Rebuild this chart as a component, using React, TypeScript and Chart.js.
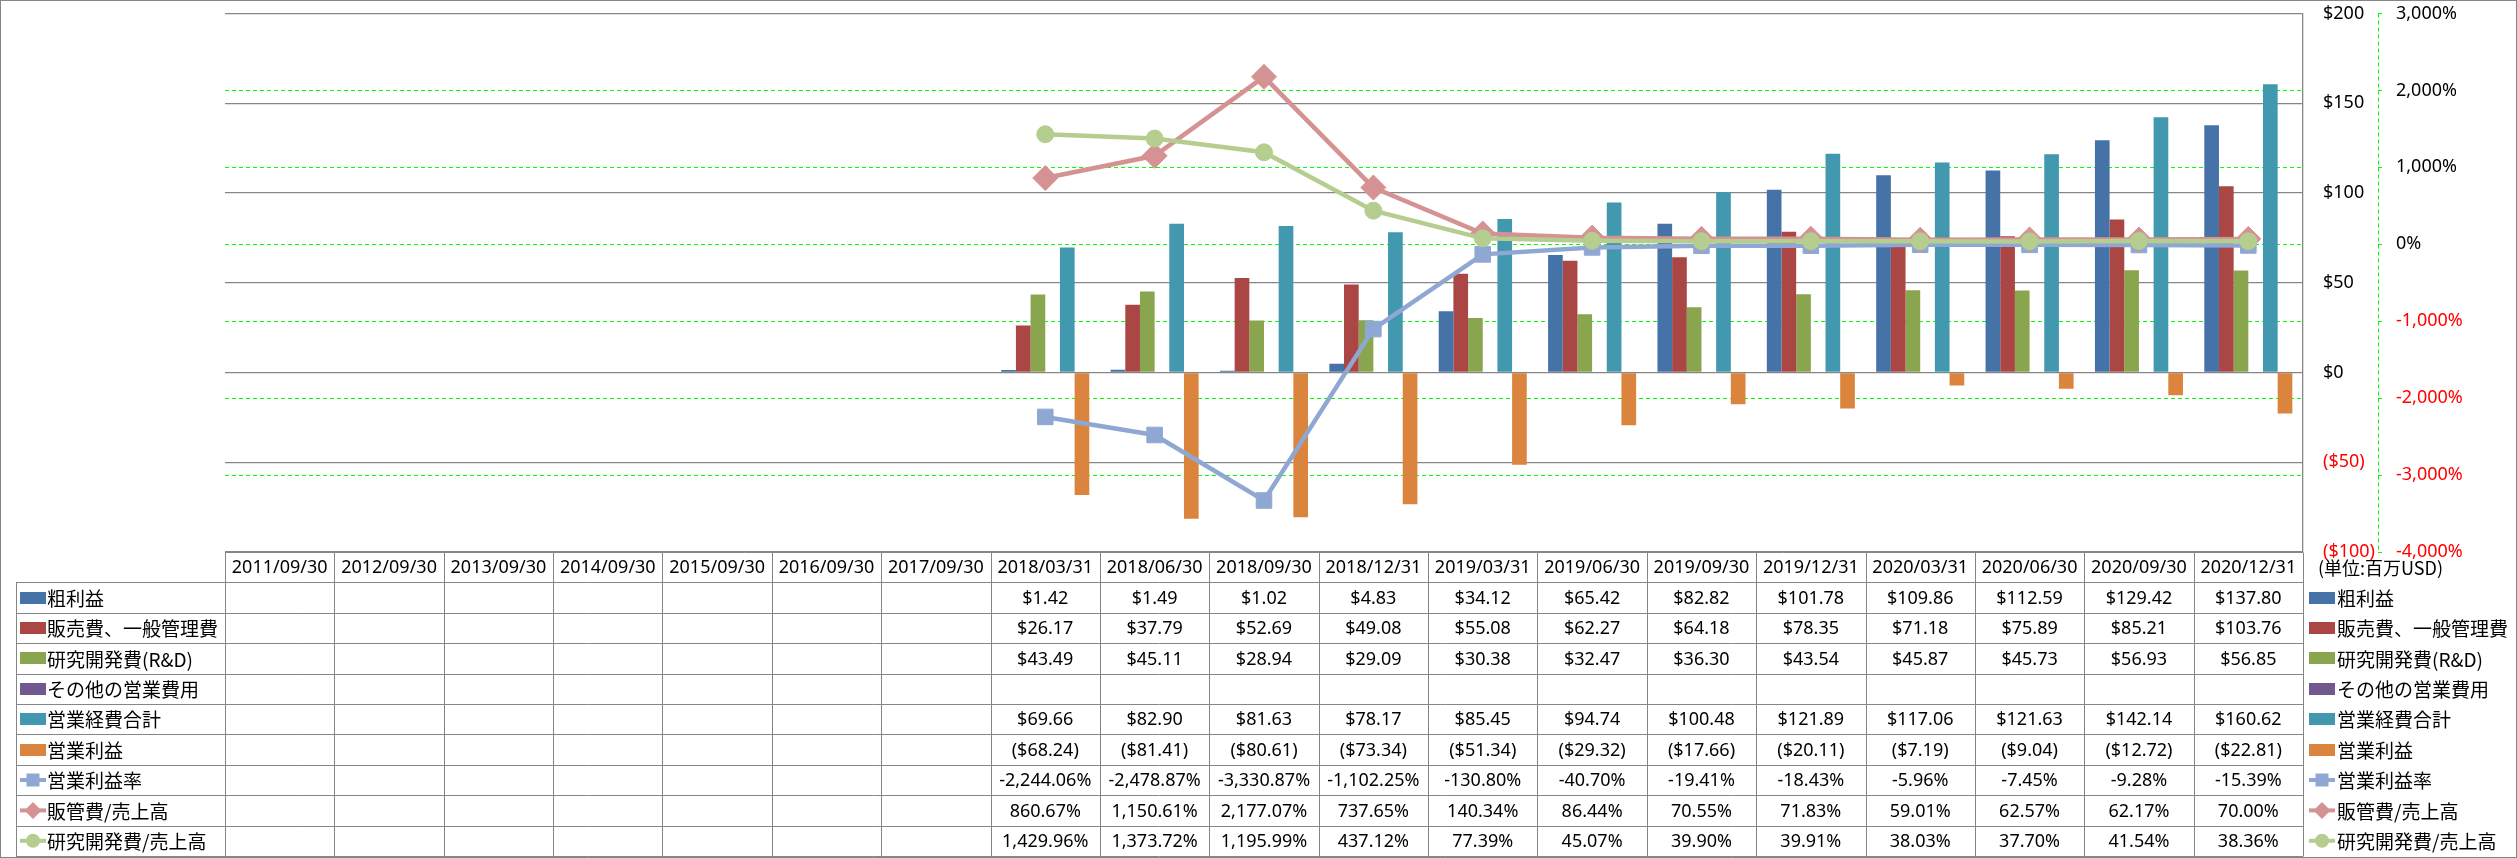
import React, { useEffect, useRef } from 'react';
import { Chart, registerables } from 'chart.js';

Chart.register(...registerables);

const categories = [
  '2011/09/30', '2012/09/30', '2013/09/30', '2014/09/30', '2015/09/30', '2016/09/30', '2017/09/30',
  '2018/03/31', '2018/06/30', '2018/09/30', '2018/12/31', '2019/03/31', '2019/06/30',
  '2019/09/30', '2019/12/31', '2020/03/31', '2020/06/30', '2020/09/30', '2020/12/31',
];

const grossProfit = [null, null, null, null, null, null, null, 1.42, 1.49, 1.02, 4.83, 34.12, 65.42, 82.82, 101.78, 109.86, 112.59, 129.42, 137.8];
const sgaExpense = [null, null, null, null, null, null, null, 26.17, 37.79, 52.69, 49.08, 55.08, 62.27, 64.18, 78.35, 71.18, 75.89, 85.21, 103.76];
const rdExpense = [null, null, null, null, null, null, null, 43.49, 45.11, 28.94, 29.09, 30.38, 32.47, 36.3, 43.54, 45.87, 45.73, 56.93, 56.85];
const otherExpense = [null, null, null, null, null, null, null, null, null, null, null, null, null, null, null, null, null, null, null];
const totalOpex = [null, null, null, null, null, null, null, 69.66, 82.9, 81.63, 78.17, 85.45, 94.74, 100.48, 121.89, 117.06, 121.63, 142.14, 160.62];
const operatingIncome = [null, null, null, null, null, null, null, -68.24, -81.41, -80.61, -73.34, -51.34, -29.32, -17.66, -20.11, -7.19, -9.04, -12.72, -22.81];
const operatingMargin = [null, null, null, null, null, null, null, -2244.06, -2478.87, -3330.87, -1102.25, -130.8, -40.7, -19.41, -18.43, -5.96, -7.45, -9.28, -15.39];
const sgaRatio = [null, null, null, null, null, null, null, 860.67, 1150.61, 2177.07, 737.65, 140.34, 86.44, 70.55, 71.83, 59.01, 62.57, 62.17, 70.0];
const rdRatio = [null, null, null, null, null, null, null, 1429.96, 1373.72, 1195.99, 437.12, 77.39, 45.07, 39.9, 39.91, 38.03, 37.7, 41.54, 38.36];

const moneyTicks = { min: -100, max: 200, step: 50 };
const pctTicks = { min: -4000, max: 3000, step: 1000 };
const unitLabel = '(単位:百万USD)';

const fmtMoney = (v: number | null) =>
  v == null ? '' : v < 0 ? `($${Math.abs(v).toFixed(2)})` : `$${v.toFixed(2)}`;
const fmtPct = (v: number | null) =>
  v == null ? '' : `${v.toLocaleString('en-US', { minimumFractionDigits: 2, maximumFractionDigits: 2 })}%`;

type Row = {
  label: string;
  data: (number | null)[];
  color: string;
  kind: 'bar' | 'line';
  marker?: 'rect' | 'rectRot' | 'circle';
  fmt: (v: number | null) => string;
};

const rows: Row[] = [
  { label: '粗利益', data: grossProfit, color: '#4572A7', kind: 'bar', fmt: fmtMoney },
  { label: '販売費、一般管理費', data: sgaExpense, color: '#AA4643', kind: 'bar', fmt: fmtMoney },
  { label: '研究開発費(R&D)', data: rdExpense, color: '#89A54E', kind: 'bar', fmt: fmtMoney },
  { label: 'その他の営業費用', data: otherExpense, color: '#71588F', kind: 'bar', fmt: fmtMoney },
  { label: '営業経費合計', data: totalOpex, color: '#4198AF', kind: 'bar', fmt: fmtMoney },
  { label: '営業利益', data: operatingIncome, color: '#DB843D', kind: 'bar', fmt: fmtMoney },
  { label: '営業利益率', data: operatingMargin, color: '#8FA8D3', kind: 'line', marker: 'rect', fmt: fmtPct },
  { label: '販管費/売上高', data: sgaRatio, color: '#D49392', kind: 'line', marker: 'rectRot', fmt: fmtPct },
  { label: '研究開発費/売上高', data: rdRatio, color: '#B5CD8F', kind: 'line', marker: 'circle', fmt: fmtPct },
];

const NUM_FONT = "18px 'Noto Sans'";
const JP_FONT = "19px 'Noto Sans CJK JP'";
const GRID_GRAY = '#868686';
const GREEN = '#00FF00';

function drawKey(ctx: CanvasRenderingContext2D, row: Row, x: number, y: number) {
  ctx.save();
  if (row.kind === 'bar') {
    ctx.fillStyle = row.color;
    ctx.fillRect(x, Math.round(y) - 6, 26, 12);
  } else {
    ctx.strokeStyle = row.color;
    ctx.fillStyle = row.color;
    ctx.lineWidth = 4;
    ctx.beginPath();
    ctx.moveTo(x, y);
    ctx.lineTo(x + 26, y);
    ctx.stroke();
    const cx = x + 13;
    ctx.beginPath();
    if (row.marker === 'rect') {
      ctx.rect(cx - 6.5, y - 6.5, 13, 13);
    } else if (row.marker === 'rectRot') {
      ctx.moveTo(cx, y - 8.5);
      ctx.lineTo(cx + 8.5, y);
      ctx.lineTo(cx, y + 8.5);
      ctx.lineTo(cx - 8.5, y);
      ctx.closePath();
    } else {
      ctx.arc(cx, y, 7, 0, Math.PI * 2);
    }
    ctx.fill();
  }
  ctx.restore();
}

const tablePlugin = {
  id: 'dataTable',
  afterDraw(chart: any) {
    const ctx: CanvasRenderingContext2D = chart.ctx;
    const area = chart.chartArea;
    const xs = chart.scales.x;
    const y1 = chart.scales.y1;
    const n = categories.length;
    const colW = (area.right - area.left) / n;
    const top = area.bottom;
    const bottom = chart.height - 2;
    const rowH = (bottom - top) / (rows.length + 1);
    const leftX = 16;
    const px = (v: number) => Math.round(v) + 0.5;

    ctx.save();
    // secondary axis dashed line
    ctx.strokeStyle = GREEN;
    ctx.lineWidth = 1;
    ctx.setLineDash([4, 3]);
    ctx.beginPath();
    ctx.moveTo(px(y1.left), area.top);
    ctx.lineTo(px(y1.left), area.bottom);
    ctx.stroke();
    ctx.setLineDash([]);

    // table grid
    ctx.strokeStyle = GRID_GRAY;
    ctx.lineWidth = 1;
    const line = (x1: number, yA: number, x2: number, yB: number) => {
      ctx.beginPath();
      ctx.moveTo(x1, yA);
      ctx.lineTo(x2, yB);
      ctx.stroke();
    };
    line(area.left, px(top), area.right, px(top));
    for (let r = 1; r <= rows.length + 1; r++) {
      const yy = px(top + r * rowH);
      line(leftX, yy, area.right, yy);
    }
    line(px(leftX), px(top + rowH), px(leftX), px(bottom));
    for (let i = 0; i <= n; i++) {
      const xx = px(area.left + i * colW);
      line(xx, px(top), xx, px(bottom));
    }

    // header
    ctx.fillStyle = '#000';
    ctx.textAlign = 'center';
    ctx.textBaseline = 'middle';
    ctx.font = NUM_FONT;
    categories.forEach((c, i) => {
      ctx.fillText(c, xs.getPixelForValue(i), top + rowH / 2 + 1);
    });

    // rows
    rows.forEach((row, r) => {
      const cy = top + (r + 1.5) * rowH;
      ctx.font = NUM_FONT;
      ctx.textAlign = 'center';
      ctx.fillStyle = '#000';
      row.data.forEach((v, i) => {
        const t = row.fmt(v);
        if (t) ctx.fillText(t, xs.getPixelForValue(i), cy + 1);
      });
      // left legend
      drawKey(ctx, row, 20, cy);
      ctx.font = JP_FONT;
      ctx.textAlign = 'left';
      ctx.fillStyle = '#000';
      ctx.fillText(row.label, 47, cy + 1);
      // right legend
      drawKey(ctx, row, area.right + 6, cy);
      ctx.font = JP_FONT;
      ctx.textAlign = 'left';
      ctx.fillStyle = '#000';
      ctx.fillText(row.label, area.right + 34, cy + 1);
    });

    // unit label
    ctx.font = "18px 'Noto Sans CJK JP'";
    ctx.textAlign = 'left';
    ctx.fillStyle = '#000';
    ctx.fillText(unitLabel, area.right + 15, top + rowH / 2 + 1);

    // outer border
    ctx.strokeStyle = GRID_GRAY;
    ctx.strokeRect(0.5, 0.5, chart.width - 1, chart.height - 1);
    ctx.restore();
  },
};

export default function App() {
  const canvasRef = useRef<HTMLCanvasElement | null>(null);

  useEffect(() => {
    document.body.style.margin = '0';
    const canvas = canvasRef.current;
    if (!canvas) return;

    const barDatasets = rows
      .filter((r) => r.kind === 'bar')
      .map((r) => ({
        type: 'bar' as const,
        label: r.label,
        data: r.data,
        backgroundColor: r.color,
        borderWidth: 0,
        yAxisID: 'y',
        order: 10,
        categoryPercentage: 0.805,
        barPercentage: 1,
      }));

    const lineOrder: Record<string, number> = { rect: 3, rectRot: 2, circle: 1 };
    const lineRadius: Record<string, number> = { rect: 11, rectRot: 12.5, circle: 8.5 };
    const lineDatasets = rows
      .filter((r) => r.kind === 'line')
      .map((r) => ({
        type: 'line' as const,
        label: r.label,
        data: r.data,
        borderColor: r.color,
        backgroundColor: r.color,
        borderWidth: 4.5,
        pointStyle: r.marker,
        pointRadius: lineRadius[r.marker as string],
        pointBorderColor: r.color,
        pointBackgroundColor: r.color,
        pointBorderWidth: 1,
        tension: 0,
        yAxisID: 'y1',
        order: lineOrder[r.marker as string],
      }));

    const noPad = (s: any) => {
      s.paddingTop = 0;
      s.paddingBottom = 0;
    };

    const chart = new Chart(canvas, {
      type: 'bar',
      data: { labels: categories, datasets: [...barDatasets, ...lineDatasets] as any },
      options: {
        responsive: false,
        animation: false,
        layout: { padding: { left: 225, top: 13, right: 0, bottom: 306 } },
        plugins: { legend: { display: false }, tooltip: { enabled: false } },
        scales: {
          x: { type: 'category', display: false, offset: true },
          y: {
            position: 'right',
            weight: 1,
            min: moneyTicks.min,
            max: moneyTicks.max,
            ticks: {
              stepSize: moneyTicks.step,
              padding: 20,
              font: { family: 'Noto Sans', size: 18 },
              color: (c: any) => (c.tick && c.tick.value < 0 ? '#FF0000' : '#000000'),
              callback: (v: any) => (v < 0 ? `($${Math.abs(v)})` : `$${v}`),
            },
            grid: { color: GRID_GRAY, lineWidth: 1.3, drawTicks: false, z: 0 },
            border: { display: true, color: GRID_GRAY, width: 1.3 },
            afterFit: (s: any) => {
              s.width = 75;
              noPad(s);
            },
          },
          y1: {
            position: 'right',
            weight: 2,
            min: pctTicks.min,
            max: pctTicks.max,
            ticks: {
              stepSize: pctTicks.step,
              padding: 14,
              font: { family: 'Noto Sans', size: 18 },
              color: (c: any) => (c.tick && c.tick.value < 0 ? '#FF0000' : '#000000'),
              callback: (v: any) => `${Number(v).toLocaleString('en-US')}%`,
            },
            grid: {
              color: (c: any) =>
                c.tick && (c.tick.value === pctTicks.max || c.tick.value === pctTicks.min) ? 'rgba(0,0,0,0)' : GREEN,
              lineWidth: 1,
              drawTicks: true,
              tickLength: 4,
              tickColor: GREEN,
              z: -1,
            },
            border: { display: false, dash: [4, 3] },
            afterFit: (s: any) => {
              s.width = 139;
              noPad(s);
            },
          },
        },
      } as any,
      plugins: [tablePlugin],
    });

    return () => chart.destroy();
  }, []);

  return (
    <div style={{ position: 'absolute', left: 0, top: 0, width: 2517, height: 858, background: '#fff' }}>
      <canvas ref={canvasRef} width={2517} height={858} style={{ display: 'block' }} />
    </div>
  );
}
